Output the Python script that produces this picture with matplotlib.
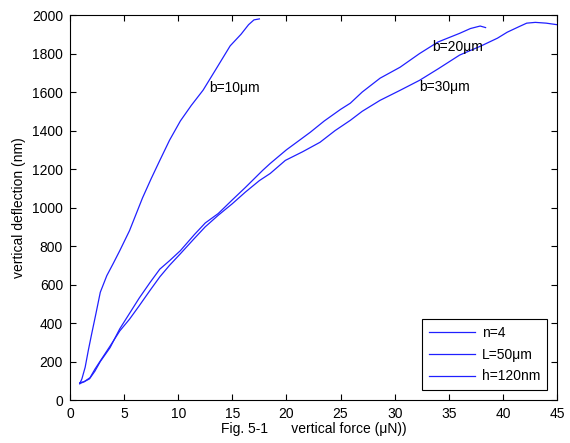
import numpy as np
import matplotlib
matplotlib.use('Agg')
import matplotlib.pyplot as plt

plt.rcParams['font.family'] = ['Liberation Sans', 'DejaVu Sans']
plt.rcParams['font.size'] = 10

# b=10um
x_b10 = [0.9, 1.1, 1.4, 1.7, 2.0, 2.4, 2.8, 3.4, 4.0, 4.6, 5.5, 6.7, 7.5, 8.3, 9.2,
         10.2, 11.2, 12.3, 13.5, 14.8, 15.8, 16.5, 17.0, 17.5]
y_b10 = [85, 110, 170, 260, 343, 450, 560, 646, 710, 776, 880, 1050, 1150, 1245, 1350,
         1450, 1530, 1610, 1720, 1840, 1900, 1950, 1975, 1980]

# b=20um
x_b20 = [0.9, 1.3, 1.8, 2.3, 2.8, 3.7, 4.6, 5.5, 6.4, 7.4, 8.3, 9.2, 10.2, 11.5, 12.5,
         13.7, 15.0, 16.2, 17.8, 18.5, 20.0, 20.8, 22.2, 23.5, 25.0, 25.9, 27.0, 28.65,
         30.5, 32.3, 34.0, 36.0, 37.0, 37.9, 38.4]
y_b20 = [90, 95, 110, 150, 200, 272, 370, 450, 530, 611, 680, 724, 776, 860, 920,
         969, 1040, 1104, 1193, 1229, 1300, 1333, 1391, 1450, 1510, 1542, 1600, 1672,
         1729, 1800, 1860, 1905, 1930, 1943, 1935]

# b=30um
x_b30 = [0.9, 1.3, 1.85, 2.3, 2.8, 3.7, 4.6, 5.5, 6.4, 7.4, 8.3, 9.2, 10.2, 11.5, 12.5,
         13.7, 15.0, 16.2, 17.5, 18.5, 19.9, 21.5, 23.1, 24.5, 25.9, 27.0, 28.65, 30.5,
         32.3, 34.0, 36.0, 38.0, 39.5, 40.4, 41.5, 42.2, 43.0, 44.0, 45.0]
y_b30 = [85, 95, 116, 160, 203, 280, 359, 420, 490, 570, 640, 700, 760, 840, 900,
         960, 1020, 1080, 1140, 1177, 1245, 1290, 1339, 1400, 1453, 1500, 1557, 1609,
         1661, 1720, 1792, 1840, 1880, 1911, 1940, 1958, 1962, 1958, 1950]

legend_labels = ["n=4", "L=50\u03bcm", "h=120nm"]

col = '#2020ff'

fig = plt.figure(figsize=(5.7, 4.43), dpi=100)
ax = fig.add_axes([0.1228, 0.097, 0.8544, 0.869])

ax.plot(x_b10, y_b10, color=col, linewidth=0.9, label=legend_labels[0])
ax.plot(x_b20, y_b20, color=col, linewidth=0.9, label=legend_labels[1])
ax.plot(x_b30, y_b30, color=col, linewidth=0.9, label=legend_labels[2])

ax.text(12.9, 1620, "b=10\u03bcm", va='center', ha='left')
ax.text(33.5, 1833, "b=20\u03bcm", va='center', ha='left')
ax.text(32.3, 1625, "b=30\u03bcm", va='center', ha='left')

ax.set_xlim(0, 45)
ax.set_ylim(0, 2000)
ax.set_xticks(np.arange(0, 46, 5))
ax.set_yticks(np.arange(0, 2001, 200))
ax.tick_params(direction='in', top=True, right=True, length=4, width=0.8, pad=5)
for s in ax.spines.values():
    s.set_linewidth(0.8)

ax.set_xlabel("Fig. 5-1      vertical force (\u03bcN))", labelpad=1)
ax.set_ylabel("vertical deflection (nm)", labelpad=4)

leg = ax.legend(loc='lower right', fancybox=False, framealpha=1, edgecolor='black',
                handlelength=3.3, handletextpad=0.5, borderaxespad=0.7,
                labelspacing=0.55, borderpad=0.5)
leg.get_frame().set_linewidth(0.8)

fig.savefig("out.png", dpi=100)
